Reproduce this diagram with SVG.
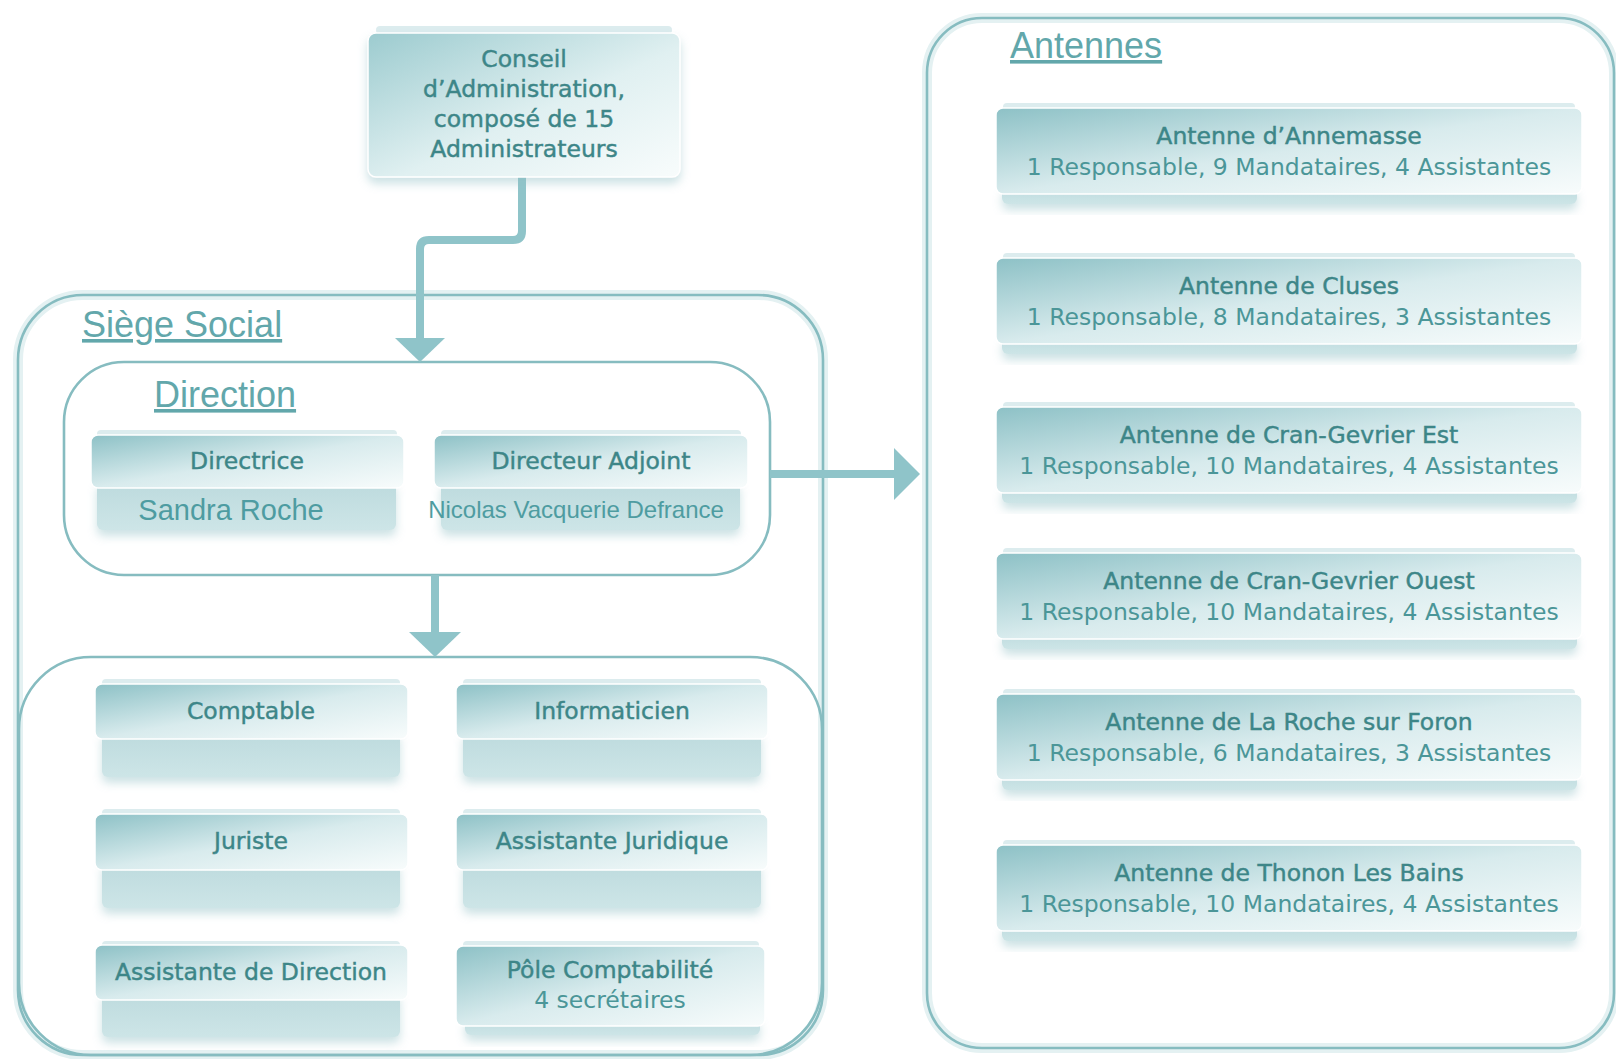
<svg xmlns="http://www.w3.org/2000/svg" width="1616" height="1059" viewBox="0 0 1616 1059">
<defs>
<style>
.cont{fill:none;stroke:#86bcc0;stroke-width:2.6}
.glow{fill:none;stroke:#e4f1f2;stroke-width:10}
.lbl{font-family:"DejaVu Sans",sans-serif;font-size:23.5px;fill:#3d8688;stroke:#3d8688;stroke-width:0.45;text-anchor:middle}
.sub{font-family:"DejaVu Sans",sans-serif;font-size:23.5px;fill:#4b9698;text-anchor:middle}
.name{font-family:"Liberation Sans",Arial,sans-serif;fill:#4e9ca1;text-anchor:middle}
.title{font-family:"Liberation Sans",Arial,sans-serif;font-size:36px;fill:#62a7ab;text-decoration:underline}
.head{fill:url(#gHead);stroke:#ffffff;stroke-width:1.5}
.band{fill:url(#gBand);filter:url(#sh)}
.top{fill:#dcecee}
.conn{fill:none;stroke:#8fc4c9;stroke-width:8;stroke-linejoin:round}
.ah{fill:#8fc4c9}
</style>
<linearGradient id="gHead" x1="0" y1="0" x2="1" y2="1">
<stop offset="0" stop-color="#8dc1c6"/>
<stop offset="0.5" stop-color="#d8ebed"/>
<stop offset="1" stop-color="#f8fcfc"/>
</linearGradient>
<linearGradient id="gBand" x1="0" y1="0" x2="0" y2="1">
<stop offset="0" stop-color="#bcdadd"/>
<stop offset="1" stop-color="#cde5e7"/>
</linearGradient>
<linearGradient id="gConseil" x1="0" y1="0" x2="1" y2="1">
<stop offset="0" stop-color="#9ccbcf"/>
<stop offset="0.55" stop-color="#e0f0f1"/>
<stop offset="1" stop-color="#f8fcfc"/>
</linearGradient>
<filter id="sh" x="-10%" y="-30%" width="120%" height="190%">
<feDropShadow dx="0" dy="6" stdDeviation="5" flood-color="#8fbfc4" flood-opacity="0.45"/>
</filter>
</defs>
<rect width="1616" height="1059" fill="#ffffff"/>

<g id="containers">
<rect class="glow" x="18" y="295" width="805" height="760" rx="65"/>
<rect class="glow" x="927" y="18" width="687" height="1030" rx="55"/>
<rect class="cont" x="18" y="295" width="805" height="760" rx="65"/>
<rect class="cont" x="64" y="362" width="706" height="213" rx="60"/>
<rect class="cont" x="19" y="657" width="803" height="398" rx="72"/>
<rect class="cont" x="927" y="18" width="687" height="1030" rx="55"/>
<text class="title" x="82" y="337" font-size="35">Siège Social</text>
<text class="title" x="154" y="407">Direction</text>
<text class="title" x="1010" y="58">Antennes</text>
</g>

<g id="connectors">
<path class="conn" d="M522 177 V231 Q522 240 513 240 H429 Q420 240 420 249 V340"/>
<polygon class="ah" points="395,338 445,338 420,362"/>
<path class="conn" d="M435 575 V634"/>
<polygon class="ah" points="409,632 461,632 435,657"/>
<path class="conn" d="M770 474 H896"/>
<polygon class="ah" points="894,448 894,500 920,474"/>
</g>

<g id="conseil">
<rect class="top" x="376" y="26" width="296" height="8" rx="4"/>
<rect x="368" y="33" width="312" height="144" rx="8" fill="url(#gConseil)" stroke="#ffffff" stroke-width="1.5" filter="url(#sh)"/>
<text class="lbl" x="524" y="67">Conseil</text>
<text class="lbl" x="524" y="97">d’Administration,</text>
<text class="lbl" x="524" y="127">composé de 15</text>
<text class="lbl" x="524" y="157">Administrateurs</text>
</g>

<g id="directrice">
<rect class="top" x="97" y="430" width="300" height="8" rx="4"/>
<rect class="band" x="97" y="480" width="299" height="50" rx="6"/>
<rect class="head" x="91" y="435" width="313" height="53" rx="7"/>
<text class="lbl" x="247" y="469">Directrice</text>
<text class="name" x="231" y="520" font-size="29">Sandra Roche</text>
</g>

<g id="directeur-adjoint">
<rect class="top" x="441" y="430" width="300" height="8" rx="4"/>
<rect class="band" x="441" y="480" width="299" height="50" rx="6"/>
<rect class="head" x="434" y="435" width="314" height="53" rx="7"/>
<text class="lbl" x="591" y="469">Directeur Adjoint</text>
<text class="name" x="576" y="518" font-size="24">Nicolas Vacquerie Defrance</text>
</g>

<g id="comptable">
<rect class="top" x="102" y="679" width="298" height="8" rx="4"/>
<rect class="band" x="102" y="730" width="298" height="47" rx="6"/>
<rect class="head" x="95" y="684" width="313" height="55" rx="7"/>
<text class="lbl" x="251" y="719">Comptable</text>
</g>

<g id="informaticien">
<rect class="top" x="463" y="679" width="298" height="8" rx="4"/>
<rect class="band" x="463" y="730" width="298" height="47" rx="6"/>
<rect class="head" x="456" y="684" width="312" height="55" rx="7"/>
<text class="lbl" x="612" y="719">Informaticien</text>
</g>

<g id="juriste">
<rect class="top" x="102" y="809" width="298" height="8" rx="4"/>
<rect class="band" x="102" y="860" width="298" height="48" rx="6"/>
<rect class="head" x="95" y="814" width="313" height="56" rx="7"/>
<text class="lbl" x="251" y="849">Juriste</text>
</g>

<g id="assistante-juridique">
<rect class="top" x="463" y="809" width="298" height="8" rx="4"/>
<rect class="band" x="463" y="860" width="298" height="48" rx="6"/>
<rect class="head" x="456" y="814" width="312" height="56" rx="7"/>
<text class="lbl" x="612" y="849">Assistante Juridique</text>
</g>

<g id="assistante-direction">
<rect class="top" x="102" y="941" width="298" height="8" rx="4"/>
<rect class="band" x="102" y="990" width="298" height="47" rx="6"/>
<rect class="head" x="95" y="945" width="313" height="55" rx="7"/>
<text class="lbl" x="251" y="980">Assistante de Direction</text>
</g>

<g id="pole-comptabilite">
<rect class="top" x="463" y="941" width="296" height="8" rx="4"/>
<rect class="band" x="465" y="1016" width="295" height="19" rx="6"/>
<rect class="head" x="456" y="946" width="309" height="80" rx="7"/>
<text class="lbl" x="610" y="978">Pôle Comptabilité</text>
<text class="sub" x="610" y="1008">4 secrétaires</text>
</g>

<g id="antenne-annemasse">
<rect class="top" x="1003" y="103" width="572" height="8" rx="4"/>
<rect class="band" x="1002" y="186" width="575" height="18" rx="6"/>
<rect class="head" x="996" y="108" width="586" height="86" rx="7"/>
<text class="lbl" x="1289" y="144">Antenne d’Annemasse</text>
<text class="sub" x="1289" y="175">1 Responsable, 9 Mandataires, 4 Assistantes</text>
</g>

<g id="antenne-cluses">
<rect class="top" x="1003" y="253" width="572" height="8" rx="4"/>
<rect class="band" x="1002" y="336" width="575" height="18" rx="6"/>
<rect class="head" x="996" y="258" width="586" height="86" rx="7"/>
<text class="lbl" x="1289" y="294">Antenne de Cluses</text>
<text class="sub" x="1289" y="325">1 Responsable, 8 Mandataires, 3 Assistantes</text>
</g>

<g id="antenne-cran-gevrier-est">
<rect class="top" x="1003" y="402" width="572" height="8" rx="4"/>
<rect class="band" x="1002" y="485" width="575" height="18" rx="6"/>
<rect class="head" x="996" y="407" width="586" height="86" rx="7"/>
<text class="lbl" x="1289" y="443">Antenne de Cran-Gevrier Est</text>
<text class="sub" x="1289" y="474">1 Responsable, 10 Mandataires, 4 Assistantes</text>
</g>

<g id="antenne-cran-gevrier-ouest">
<rect class="top" x="1003" y="548" width="572" height="8" rx="4"/>
<rect class="band" x="1002" y="631" width="575" height="18" rx="6"/>
<rect class="head" x="996" y="553" width="586" height="86" rx="7"/>
<text class="lbl" x="1289" y="589">Antenne de Cran-Gevrier Ouest</text>
<text class="sub" x="1289" y="620">1 Responsable, 10 Mandataires, 4 Assistantes</text>
</g>

<g id="antenne-la-roche">
<rect class="top" x="1003" y="689" width="572" height="8" rx="4"/>
<rect class="band" x="1002" y="772" width="575" height="18" rx="6"/>
<rect class="head" x="996" y="694" width="586" height="86" rx="7"/>
<text class="lbl" x="1289" y="730">Antenne de La Roche sur Foron</text>
<text class="sub" x="1289" y="761">1 Responsable, 6 Mandataires, 3 Assistantes</text>
</g>

<g id="antenne-thonon">
<rect class="top" x="1003" y="840" width="572" height="8" rx="4"/>
<rect class="band" x="1002" y="923" width="575" height="18" rx="6"/>
<rect class="head" x="996" y="845" width="586" height="86" rx="7"/>
<text class="lbl" x="1289" y="881">Antenne de Thonon Les Bains</text>
<text class="sub" x="1289" y="912">1 Responsable, 10 Mandataires, 4 Assistantes</text>
</g>
</svg>
